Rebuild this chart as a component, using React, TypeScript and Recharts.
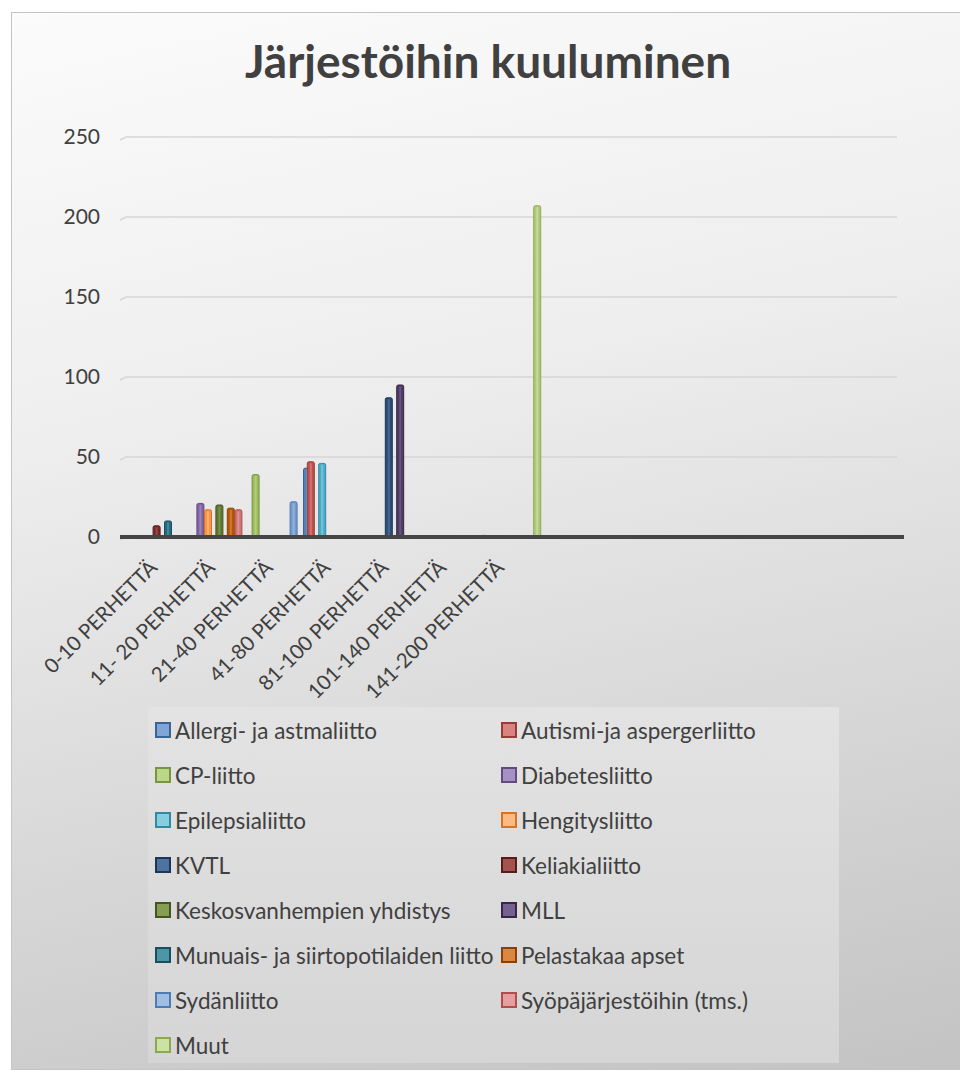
import React from 'react';
import { BarChart, Bar, XAxis, YAxis, CartesianGrid, Legend } from 'recharts';

const title = 'Järjestöihin kuuluminen';

const categories = [
  '0-10 PERHETTÄ',
  '11- 20 PERHETTÄ',
  '21-40 PERHETTÄ',
  '41-80 PERHETTÄ',
  '81-100 PERHETTÄ',
  '101-140 PERHETTÄ',
  '141-200 PERHETTÄ',
  '', '', '', '', '', '',
];

const yTicks = [0, 50, 100, 150, 200, 250];

// values per category (null = no bar)
const allergi = [null, null, null, 43, null, null, 1, null, null, null, null, null, null];
const autismi = [null, null, null, 47, null, null, null, null, null, null, null, null, null];
const cpLiitto = [null, null, 39, null, null, null, null, null, null, null, null, null, null];
const diabetes = [null, 21, null, null, null, null, null, null, null, null, null, null, null];
const epilepsia = [null, null, null, 46, null, null, null, null, null, null, null, null, null];
const hengitys = [null, 17, null, null, null, null, null, null, null, null, null, null, null];
const kvtl = [null, null, null, null, 87, null, null, null, null, null, null, null, null];
const keliakia = [7, null, null, null, null, null, null, null, null, null, null, null, null];
const keskos = [null, 20, null, null, null, null, null, null, null, null, null, null, null];
const mll = [null, null, null, null, 95, null, null, null, null, null, null, null, null];
const munuais = [10, null, null, null, null, null, null, null, null, null, null, null, null];
const pelastakaa = [null, 18, null, null, null, null, null, null, null, null, null, null, null];
const sydan = [null, null, 22, null, null, null, null, null, null, null, null, null, null];
const syopa = [null, 17, null, null, null, null, null, null, null, null, null, null, null];
const muut = [null, null, null, null, null, null, 207, null, null, null, null, null, null];

const seriesNames = [
  'Allergi- ja astmaliitto',
  'Autismi-ja aspergerliitto',
  'CP-liitto',
  'Diabetesliitto',
  'Epilepsialiitto',
  'Hengitysliitto',
  'KVTL',
  'Keliakialiitto',
  'Keskosvanhempien yhdistys',
  'MLL',
  'Munuais- ja siirtopotilaiden liitto',
  'Pelastakaa apset',
  'Sydänliitto',
  'Syöpäjärjestöihin (tms.)',
  'Muut',
];

const seriesValues = [
  allergi, autismi, cpLiitto, diabetes, epilepsia, hengitys, kvtl, keliakia,
  keskos, mll, munuais, pelastakaa, sydan, syopa, muut,
];

const seriesColors = [
  '#4F81BD', '#C0504D', '#9BBB59', '#8064A2', '#4BACC6', '#F79646', '#2C4D75', '#772C2A',
  '#5F7530', '#4D3B62', '#276A7C', '#B65708', '#729ACA', '#CD7371', '#AFC97A',
];
const seriesStrokes = [
  '#3A6396', '#9A3B38', '#789540', '#624B80', '#3489A0', '#D9731F', '#1E3655', '#561D1C',
  '#445522', '#352847', '#1A4E5C', '#8C4104', '#4F7CB5', '#B14E4C', '#8AAA4E',
];
const seriesLights = [
  '#7FA6D6', '#D98280', '#BCD68A', '#A790C2', '#86CDE0', '#FBB984', '#4E73A0', '#A4524F',
  '#869E52', '#75608F', '#4E95A8', '#DB8740', '#A0BEE2', '#E3A09E', '#CDE0A6',
];

const data = categories.map((name, i) => {
  const row: Record<string, any> = { name };
  seriesValues.forEach((vals, s) => {
    row[`s${s}`] = vals[i];
  });
  return row;
});

const FONT = 'Lato, "Open Sans", sans-serif';
const TEXT = '#404040';

const makeShape = (s: number) => (props: any) => {
  const { x, y, width, height } = props;
  if (!height || height <= 0) return <g />;
  const w = 7;
  const cx = x + width / 2;
  return (
    <g>
      <rect x={cx - w / 2} y={y} width={w} height={height + 1} rx={1.6} ry={1.6}
        fill={seriesColors[s]} stroke={seriesStrokes[s]} strokeWidth={1} />
      <rect x={cx - 1} y={y + 1.5} width={2} height={Math.max(0, height - 1.5)}
        fill={seriesLights[s]} opacity={0.7} />
    </g>
  );
};

const XTick = (props: any) => {
  const { x, y, payload, index } = props;
  if (!payload || !payload.value) return <g />;
  return (
    <g transform={`translate(${x + 2 - index * 1.2},${y + 32})`}>
      <text textAnchor="end" transform="rotate(-45)" fontSize={20.5} fill={TEXT} fontFamily={FONT}>
        {payload.value}
      </text>
    </g>
  );
};

const GridLine = (props: any) => {
  const { x1, x2, y1, y2 } = props;
  return (
    <g>
      <line x1={x1 + 6} x2={x2 - 7} y1={y1} y2={y2} stroke="#d6d6d6" strokeWidth={1.5} />
      <line x1={x1} x2={x1 + 6} y1={y1 + 3} y2={y1} stroke="#d6d6d6" strokeWidth={1.5} />
    </g>
  );
};

const LegendContent = () => (
  <div
    style={{
      width: 691,
      height: 356,
      background: 'linear-gradient(to bottom, #e3e3e3, #d5d5d5)',
      position: 'relative',
      fontFamily: FONT,
      fontSize: 22.5,
      color: TEXT,
    }}
  >
    {seriesNames.map((n, i) => {
      const col = i % 2;
      const row = Math.floor(i / 2);
      return (
        <div
          key={n}
          style={{
            position: 'absolute',
            left: col === 0 ? 7 : 353,
            top: row * 45 + 23 - 15,
            height: 30,
            display: 'flex',
            alignItems: 'center',
            whiteSpace: 'nowrap',
          }}
        >
          <span
            style={{
              display: 'inline-block',
              width: 12,
              height: 12,
              background: seriesLights[i],
              border: `2px solid ${seriesStrokes[i]}`,
              marginRight: 4,
            }}
          />
          <span>{n}</span>
        </div>
      );
    })}
  </div>
);

export default function App() {
  return (
    <div
      style={{
        position: 'relative',
        marginLeft: 3,
        marginTop: 4,
        width: 954,
        height: 1058,
        boxSizing: 'border-box',
        border: '1px solid #c4c4c4',
        background: 'linear-gradient(168deg, #fbfbfb 0%, #eeeeee 35%, #dadada 65%, #c3c3c3 100%)',
      }}
    >
      <svg width={954} height={110} style={{ position: 'absolute', left: -1, top: -1 }}>
        <text x={477} y={66} textAnchor="middle" fontSize={46} fontWeight={700} fill={TEXT} fontFamily={FONT}>
          {title}
        </text>
      </svg>
      <div style={{ position: 'absolute', left: -1, top: -1 }}>
        <BarChart
          width={954}
          height={1058}
          data={data}
          margin={{ top: 125, right: 61, bottom: 503, left: 0 }}
          barSize={4}
          barGap={-0.2}
        >
          <CartesianGrid vertical={false} horizontal={(p: any) => <GridLine key={p.key} {...p} />} />
          <YAxis
            width={109}
            domain={[0, 250]}
            ticks={yTicks}
            axisLine={false}
            tickLine={false}
            tickSize={0}
            tickMargin={20}
            tick={{ fontSize: 21, fill: TEXT, fontFamily: FONT }}
          />
          {seriesNames.map((n, s) => (
            <Bar
              key={n}
              dataKey={`s${s}`}
              name={n}
              fill={seriesColors[s]}
              isAnimationActive={false}
              shape={makeShape(s)}
            />
          ))}
          <XAxis
            dataKey="name"
            height={30}
            interval={0}
            padding={{ left: 7, right: 10 }}
            axisLine={{ stroke: '#454545', strokeWidth: 4 }}
            tickLine={false}
            tickSize={0}
            tickMargin={0}
            tick={<XTick />}
          />
          <Legend
            layout="vertical"
            align="center"
            verticalAlign="middle"
            wrapperStyle={{ left: 137, top: 695, width: 691, height: 356 }}
            content={<LegendContent />}
          />
        </BarChart>
      </div>
    </div>
  );
}
